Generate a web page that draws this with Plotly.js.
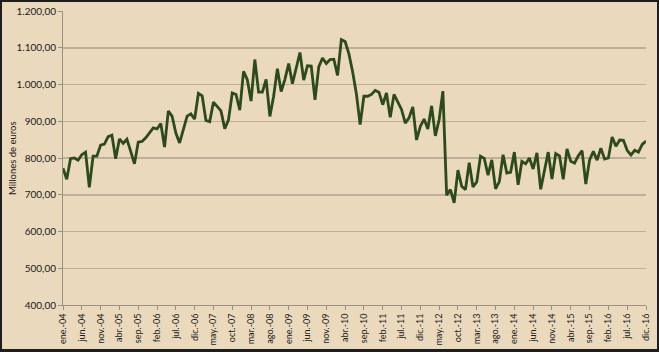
<!DOCTYPE html>
<html>
<head>
<meta charset="utf-8">
<script src="https://cdn.plot.ly/plotly-3.0.1.min.js"></script>
<style>
  html, body { margin: 0; padding: 0; background: #EAD9BD; }
  #wrap { position: relative; width: 659px; height: 352px; }
  #chart { position: absolute; left: 0; top: 0; width: 659px; height: 352px; }
  #frame { position: absolute; left: 0; top: 0; width: 659px; height: 352px; box-sizing: border-box;
           border: 2px solid #1e1e1e; border-bottom-width: 3px; pointer-events: none; }
</style>
</head>
<body>
<div id="wrap"><div id="chart"></div><div id="frame"></div></div>
<script>
// Month abbreviations and years used to build the category labels
const monthNames = ['ene.','feb.','mar.','abr.','may.','jun.','jul.','ago.','sep.','oct.','nov.','dic.'];
const years = ['04','05','06','07','08','09','10','11','12','13','14','15','16'];

// Monthly values, millones de euros (ene-04 .. dic-16)
const values = [
  772, 742, 798, 800, 794, 809, 816, 720, 805, 805, 835, 838,
  858, 862, 798, 852, 840, 851, 818, 784, 843, 845, 855, 869,
  882, 879, 894, 830, 928, 914, 868, 841, 877, 914, 920, 906,
  976, 969, 902, 899, 952, 941, 928, 880, 904, 977, 973, 930,
  1036, 1013, 955, 1068, 979, 979, 1014, 913, 968, 1043, 981, 1014,
  1057, 1002, 1041, 1087, 1012, 1051, 1050, 958, 1048, 1072, 1057, 1068,
  1069, 1025, 1122, 1117, 1084, 1035, 975, 891, 968, 968, 973, 984,
  979, 945, 977, 911, 973, 954, 932, 895, 909, 939, 849, 886,
  906, 879, 942, 860, 904, 982, 699, 714, 678, 767, 723, 714,
  787, 721, 735, 805, 799, 753, 795, 716, 736, 809, 759, 761,
  816, 727, 791, 784, 800, 770, 814, 715, 768, 816, 743, 812,
  806, 742, 825, 791, 786, 806, 820, 729, 795, 818, 794, 827,
  797, 800, 857, 832, 849, 848, 821, 808, 821, 816, 837, 846
];

const categories = [];
years.forEach(y => monthNames.forEach(m => categories.push(m + '-' + y)));
const tickLabels = categories.filter((c, i) => i % 5 === 0);

const fontFam = 'Lato, "Open Sans", sans-serif';

const trace = {
  type: 'scatter',
  mode: 'lines',
  x: categories,
  y: values,
  line: { color: '#2E4A1C', width: 2.8 },
  hoverinfo: 'skip'
};

const layout = {
  width: 659, height: 352,
  margin: { l: 63, r: 13, t: 11, b: 47, pad: 0 },
  paper_bgcolor: '#EAD9BD',
  plot_bgcolor: '#EAD9BD',
  separators: ',.',
  showlegend: false,
  font: { family: fontFam, color: '#1a1a1a' },
  xaxis: {
    type: 'category',
    range: [0, categories.length - 1],
    tickmode: 'array',
    tickvals: tickLabels,
    ticktext: tickLabels,
    tickangle: -90,
    ticks: 'outside',
    ticklen: 4,
    tickcolor: '#9C9080',
    showgrid: false,
    showline: true,
    linecolor: '#9C9080',
    linewidth: 1,
    zeroline: false,
    tickfont: { family: fontFam, size: 9, color: '#1a1a1a' },
    fixedrange: true
  },
  yaxis: {
    range: [400, 1200],
    dtick: 100,
    tick0: 400,
    tickformat: ',.2f',
    ticks: 'outside',
    ticklen: 4,
    tickcolor: '#9C9080',
    showgrid: true,
    gridcolor: '#BDAF9C',
    gridwidth: 1.5,
    showline: true,
    linecolor: '#9C9080',
    linewidth: 1,
    zeroline: false,
    tickfont: { family: fontFam, size: 10, color: '#1a1a1a' },
    fixedrange: true
  },
  annotations: [{
    text: 'Millones de euros',
    xref: 'paper', yref: 'paper',
    x: -51 / 583, y: 0.5,
    xanchor: 'center', yanchor: 'middle',
    textangle: -90,
    showarrow: false,
    font: { family: fontFam, size: 9.5, color: '#1a1a1a' }
  }]
};

Plotly.newPlot('chart', [trace], layout, { displayModeBar: false, staticPlot: true });
</script>
</body>
</html>
